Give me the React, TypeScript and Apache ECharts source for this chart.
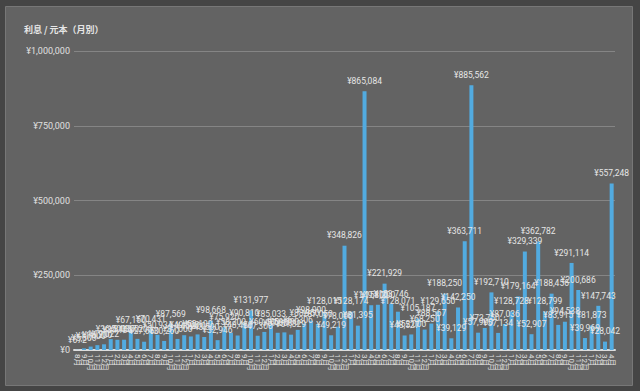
import React, { useEffect, useRef } from "react";
import * as echarts from "echarts";

const titleText = "利息 / 元本（月別）";

const months = [
  "8月", "9月", "10月", "11月", "12月",
  "1月", "2月", "3月", "4月", "5月", "6月", "7月", "8月", "9月", "10月", "11月", "12月",
  "1月", "2月", "3月", "4月", "5月", "6月", "7月", "8月", "9月", "10月", "11月", "12月",
  "1月", "2月", "3月", "4月", "5月", "6月", "7月", "8月", "9月", "10月", "11月", "12月",
  "1月", "2月", "3月", "4月", "5月", "6月", "7月", "8月", "9月", "10月", "11月", "12月",
  "1月", "2月", "3月", "4月", "5月", "6月", "7月", "8月", "9月", "10月", "11月", "12月",
  "1月", "2月", "3月", "4月", "5月", "6月", "7月", "8月", "9月", "10月", "11月", "12月",
  "1月", "2月", "3月", "4月",
];

const values = [
  672, 5300, 11400, 16200, 19022,
  36500, 34100, 34300, 67150, 37200, 27650, 70431, 50934, 30260, 87569, 37000, 49500,
  45300, 52100, 43500, 98668, 32946, 75920, 58200, 48450, 90810, 131977, 47300, 60400,
  85033, 57600, 59000, 51329, 67306, 88950, 98000, 87050, 128015, 49219, 78000, 348826,
  128174, 81395, 865084, 149800, 151200, 221929, 153746, 128071, 48527, 52000, 105187, 68250,
  88567, 129650, 188250, 39129, 142250, 363711, 885562, 57900, 73750, 192710, 57134, 87036,
  128728, 179164, 329339, 52907, 362782, 128799, 188456, 83915, 94538, 291114, 200686, 39969,
  81873, 147743, 28042, 557248,
];

const yTicks = [0, 250000, 500000, 750000, 1000000];

const yen = (v: number) => "¥" + v.toLocaleString("en-US");

export default function App() {
  const ref = useRef<HTMLDivElement>(null);
  useEffect(() => {
    if (!ref.current) return;
    const chart = echarts.init(ref.current, undefined, { renderer: "svg" });
    const font = "Roboto, 'Noto Sans CJK JP', sans-serif";
    chart.setOption({
      animation: false,
      backgroundColor: "#454545",
      textStyle: { fontFamily: font },
      graphic: [
        {
          type: "rect",
          silent: true,
          z: -10,
          shape: { x: 5.5, y: 6.5, width: 627, height: 379 },
          style: { fill: "#636363", stroke: "#777777", lineWidth: 1 },
        },
        {
          type: "text",
          left: 24,
          top: 25,
          style: {
            text: titleText,
            fill: "#e6e6e6",
            font: "bold 9px 'Noto Sans CJK JP', sans-serif",
          },
        },
      ],
      grid: { left: 74, right: 25, top: 51, bottom: 41, containLabel: false },
      xAxis: {
        type: "category",
        data: months,
        axisLine: { show: true, lineStyle: { color: "#dddddd", width: 2 } },
        axisTick: { show: false },
        axisLabel: {
          show: true,
          interval: 0,
          rotate: -90,
          hideOverlap: false,
          overflow: "none",
          color: "#e0e0e0",
          fontSize: 8,
          margin: 4,
          fontFamily: font,
        },
      },
      yAxis: {
        type: "value",
        min: yTicks[0],
        max: yTicks[yTicks.length - 1],
        interval: 250000,
        axisLine: { show: false },
        axisTick: { show: false },
        splitLine: { lineStyle: { color: "#858585", width: 1 } },
        axisLabel: {
          color: "#e0e0e0",
          fontSize: 9,
          margin: 4,
          fontFamily: font,
          formatter: (v: number) => yen(v),
        },
      },
      series: [
        {
          type: "bar",
          data: values,
          barWidth: 4,
          itemStyle: { color: "#52abe0" },
          label: {
            show: true,
            position: "top",
            distance: 6,
            color: "#e6e6e6",
            fontSize: 8.5,
            fontFamily: font,
            formatter: (p: any) => yen(p.value),
          },
        },
      ],
    });
    return () => chart.dispose();
  }, []);
  return (
    <div
      ref={ref}
      style={{ position: "fixed", left: 0, top: 0, width: 640, height: 391 }}
    />
  );
}
